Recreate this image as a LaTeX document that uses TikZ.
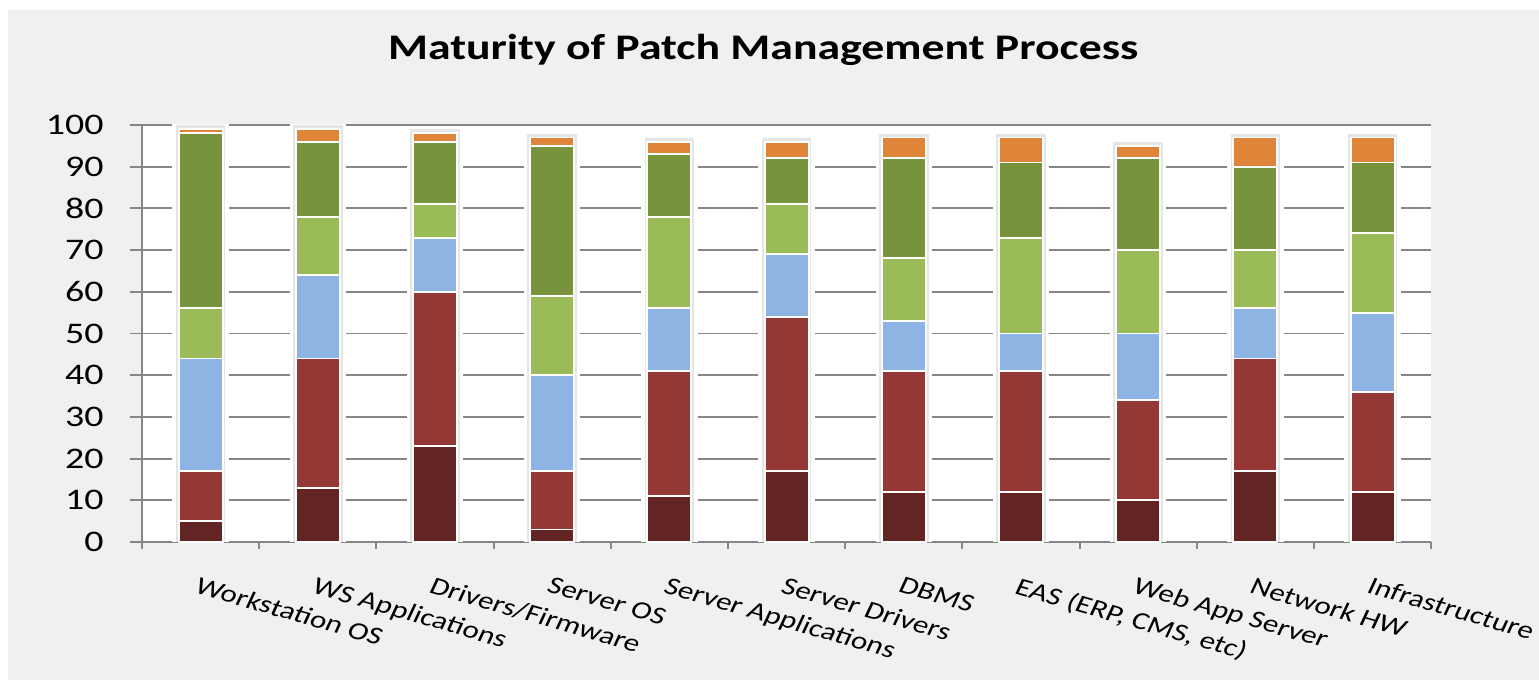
\documentclass[tikz,border=0pt]{standalone}
\usepackage{fontspec}
\setmainfont{Carlito}
\usepackage{tikz}

\definecolor{panelgray}{HTML}{F0F0F0}
\definecolor{gridgray}{HTML}{868686}
\definecolor{segA}{HTML}{632523}
\definecolor{segB}{HTML}{953735}
\definecolor{segC}{HTML}{8EB4E3}
\definecolor{segD}{HTML}{9BBB59}
\definecolor{segE}{HTML}{77933C}
\definecolor{segF}{HTML}{DE853A}

\begin{document}
\begin{tikzpicture}[x=2.344cm, y=0.0834cm,
	grid/.style={draw=gridgray, line width=1.1pt},
	seg/.style={draw=white, line width=1.1pt},
	wide/.style={xscale=1.27, inner sep=0pt},
	cat/.style={wide, rotate=-20, anchor=north west, font=\fontsize{14}{16}\selectfont},
	]
% page and chart panel
\fill[white] (-2.84cm,-2.76cm) rectangle (27.94cm,10.84cm);
\fill[panelgray] (-2.68cm,-2.76cm) rectangle (27.94cm,10.64cm);
\useasboundingbox (-2.84cm,-2.76cm) rectangle (27.94cm,10.84cm);
\fill[white] (0,0) rectangle (11,100);

\node[wide, anchor=base, font=\bfseries\fontsize{20.5}{24}\selectfont] (title) at (5.30,115.6) {Maturity of Patch Management Process};

% grid and axes
\foreach \v in {10,20,...,100} \draw[grid] (-0.102,\v) -- (11,\v);
\draw[grid] (0,0) -- (0,100);
\draw[grid] (-0.102,0) -- (11,0);
\foreach \i in {0,...,11} \draw[grid] (\i,0) -- (\i,-1.7);
\foreach \v in {0,10,...,100} \node[wide, anchor=east, font=\fontsize{17}{20}\selectfont] (y\v) at (-0.324,\v) {\v};

% stacked bars, tops of each segment
\foreach \i/\a/\b/\c/\d/\e/\f in {1/5/17/44/56/98/99, 2/13/44/64/78/96/99, 3/23/60/73/81/96/98,
	4/3/17/40/59/95/97, 5/11/41/56/78/93/96, 6/17/54/69/81/92/96, 7/12/41/53/68/92/97,
	8/12/41/50/73/91/97, 9/10/34/50/70/92/95, 10/17/44/56/70/90/97, 11/12/36/55/74/91/97}{
	\fill[white] ({\i-0.74},0) rectangle ({\i-0.26},{\f+1.2});
	\draw[black!10, line width=2pt] ({\i-0.697},0) -- ({\i-0.697},{\f+0.5}) -- ({\i-0.303},{\f+0.5}) -- ({\i-0.303},0);
	\filldraw[seg, fill=segA] ({\i-0.6875},0) rectangle ({\i-0.3125},\a);
	\filldraw[seg, fill=segB] ({\i-0.6875},\a) rectangle ({\i-0.3125},\b);
	\filldraw[seg, fill=segC] ({\i-0.6875},\b) rectangle ({\i-0.3125},\c);
	\filldraw[seg, fill=segD] ({\i-0.6875},\c) rectangle ({\i-0.3125},\d);
	\filldraw[seg, fill=segE] ({\i-0.6875},\d) rectangle ({\i-0.3125},\e);
	\filldraw[seg, fill=segF] ({\i-0.6875},\e) rectangle ({\i-0.3125},\f);
}

% category labels
\node[cat] (ws os) at (0.5,-8.2) {Workstation OS};
\node[cat] (ws apps) at (1.5,-8.2) {WS Applications};
\node[cat] (drivers) at (2.5,-8.2) {Drivers/Firmware};
\node[cat] (srv os) at (3.5,-8.2) {Server OS};
\node[cat] (srv apps) at (4.5,-8.2) {Server Applications};
\node[cat] (srv drv) at (5.5,-8.2) {Server Drivers};
\node[cat] (dbms) at (6.5,-8.2) {DBMS};
\node[cat] (eas) at (7.5,-8.2) {EAS (ERP, CMS, etc)};
\node[cat] (webapp) at (8.5,-8.2) {Web App Server};
\node[cat] (nethw) at (9.5,-8.2) {Network HW};
\node[cat] (infra) at (10.5,-8.2) {Infrastructure};
\end{tikzpicture}
\end{document}
